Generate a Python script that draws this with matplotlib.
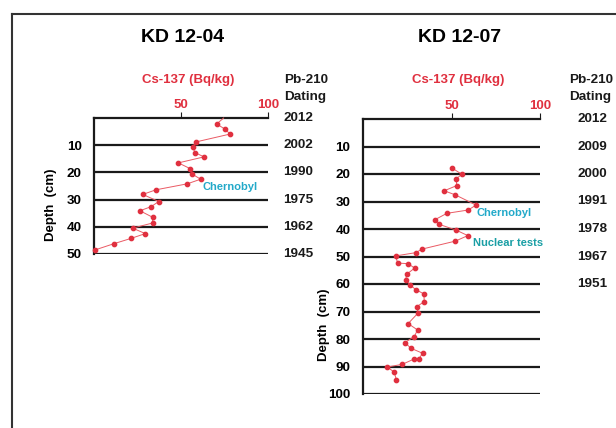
import matplotlib
matplotlib.use("Agg")
import matplotlib.pyplot as plt
from matplotlib.transforms import blended_transform_factory

plt.rcParams['font.family'] = ['Liberation Sans', 'DejaVu Sans']

# ---- Data ----
kd04_depth = [0.0, 2.2, 4.1, 5.9, 8.8, 10.6, 12.7, 14.3, 16.5, 18.6, 20.5, 22.5, 24.2,
              26.4, 28.1, 30.7, 32.6, 34.1, 36.5, 38.6, 40.5, 42.5, 44.3, 46.2, 48.5]
kd04_cs = [74.5, 70.5, 75.3, 78.2, 58.6, 56.7, 58.0, 63.2, 48.5, 55.2, 56.1, 61.3, 53.6,
           35.6, 28.0, 37.2, 32.8, 26.4, 33.7, 33.7, 22.2, 29.5, 21.1, 11.5, 0.6]

kd07_depth = [17.9, 20.1, 21.8, 24.2, 26.1, 27.6, 31.3, 33.1, 34.3, 36.7, 38.3, 40.4, 42.4,
              44.4, 47.3, 48.6, 49.8, 52.4, 52.6, 54.2, 56.5, 58.5, 60.5, 62.1, 63.6, 66.4,
              68.2, 70.7, 74.4, 76.7, 79.1, 81.3, 83.4, 85.2, 87.3, 87.3, 89.2, 90.2, 92.0, 94.8]
kd07_cs = [50.5, 55.8, 52.6, 53.0, 45.9, 52.2, 63.9, 59.4, 47.4, 40.4, 43.0, 52.6, 59.2,
           52.2, 33.4, 29.8, 18.4, 19.6, 25.4, 29.2, 24.6, 24.2, 26.8, 30.0, 34.4, 34.6,
           30.5, 30.9, 25.5, 30.8, 29.0, 23.6, 27.2, 33.7, 31.4, 28.8, 22.2, 13.8, 17.5, 18.9]

kd04_dates = ["2012", "2002", "1990", "1975", "1962", "1945"]
kd07_dates = ["2012", "2009", "2000", "1991", "1978", "1967", "1951"]
kd04_ticks = [10, 20, 30, 40, 50]
kd07_ticks = [10, 20, 30, 40, 50, 60, 70, 80, 90, 100]
x_ticks = [50, 100]

W, H = 616, 428
fig = plt.figure(figsize=(W / 100, H / 100), dpi=100)

RED = '#e0303f'
LINE_RED = '#ea5a64'
CYAN = '#22a9c9'
TEAL = '#1a9fa5'


def px(x, y):
    return x / W, 1 - y / H


def make_panel(rect, depth, cs, maxd, ticks, dates, date_x, pb_x, first_line_only):
    x0, y0, x1, y1 = rect
    ax = fig.add_axes([x0 / W, 1 - y1 / H, (x1 - x0) / W, (y1 - y0) / H])
    ax.set_xlim(0, 100)
    ax.set_ylim(maxd, 0)
    for s in ['right', 'bottom']:
        ax.spines[s].set_visible(False)
    ax.spines['left'].set_linewidth(1.6)
    ax.spines['top'].set_linewidth(1.6)
    ax.spines['left'].set_color('#1a1a1a')
    ax.spines['top'].set_color('#1a1a1a')
    for d in range(10, maxd + 1, 10):
        ax.axhline(d, color='#1a1a1a', lw=1.6, zorder=1)
    ax.xaxis.tick_top()
    ax.set_xticks(x_ticks)
    ax.set_xticklabels([str(t) for t in x_ticks], color=RED, fontsize=9.5, fontweight='bold')
    ax.tick_params(axis='x', length=4, width=0.8, pad=1, colors='#1a1a1a', labelcolor=RED)
    ax.set_yticks(ticks)
    ax.set_yticklabels([str(t) for t in ticks], fontsize=9.7, fontweight='bold')
    ax.tick_params(axis='y', length=0, pad=9)
    ax.patch.set_visible(False)
    ax.plot(cs, depth, color=LINE_RED, lw=0.7, zorder=3, clip_on=False)
    start = 1 if first_line_only else 0
    ax.plot(cs[start:], depth[start:], ls='none', marker='o', ms=3.1, color=RED,
            zorder=4, clip_on=False)
    tr = blended_transform_factory(fig.transFigure, ax.transData)
    for i, dt in enumerate(dates):
        ax.text(date_x / W, i * 10, dt, transform=tr, fontsize=9.7, fontweight='bold',
                ha='left', va='center', color='#1a1a1a')
    fig.text(*px(pb_x, 80), "Pb-210", fontsize=9.7, fontweight='bold', ha='left', va='center', color='#1a1a1a')
    fig.text(*px(pb_x, 97), "Dating", fontsize=9.7, fontweight='bold', ha='left', va='center', color='#1a1a1a')
    return ax


ax1 = make_panel((94, 118, 268, 254), kd04_depth, kd04_cs, 50, kd04_ticks, kd04_dates, 283, 284, True)
ax2 = make_panel((363, 119, 540, 394), kd07_depth, kd07_cs, 100, kd07_ticks, kd07_dates, 577, 569, False)

ax1.text(62.5, 25.2, "Chernobyl", color=CYAN, fontsize=8, fontweight='bold', va='center', ha='left')
ax2.text(64.3, 34.0, "Chernobyl", color=CYAN, fontsize=8, fontweight='bold', va='center', ha='left')
ax2.text(62.0, 45.0, "Nuclear tests", color=TEAL, fontsize=8, fontweight='bold', va='center', ha='left')

# titles and axis labels
fig.text(*px(183, 38), "KD 12-04", fontsize=14, fontweight='bold', ha='center', va='center')
fig.text(*px(460, 38), "KD 12-07", fontsize=14, fontweight='bold', ha='center', va='center')
fig.text(*px(188, 80), "Cs-137 (Bq/kg)", fontsize=9.5, fontweight='bold', color=RED, ha='center', va='center')
fig.text(*px(458, 80), "Cs-137 (Bq/kg)", fontsize=9.5, fontweight='bold', color=RED, ha='center', va='center')
fig.text(*px(51, 205), "Depth  (cm)", fontsize=9.5, fontweight='bold', rotation=90, ha='center', va='center')
fig.text(*px(324, 325), "Depth  (cm)", fontsize=9.5, fontweight='bold', rotation=90, ha='center', va='center')

# outer frame (top and left edges visible)
fig.add_artist(plt.Line2D([12 / W, 1.0], [1 - 14 / H, 1 - 14 / H], transform=fig.transFigure,
                          color='#333333', lw=1.5))
fig.add_artist(plt.Line2D([12 / W, 12 / W], [1 - 14 / H, 0.0], transform=fig.transFigure,
                          color='#333333', lw=1.5))

fig.savefig("out.png", dpi=100, facecolor='white')
